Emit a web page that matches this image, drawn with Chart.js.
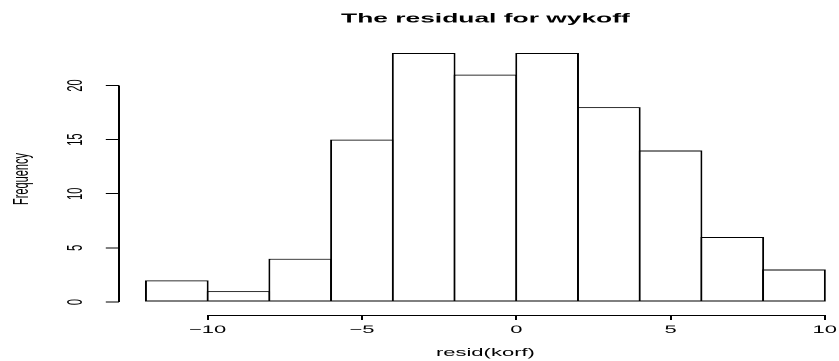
<!DOCTYPE html>
<html>
<head>
<meta charset="utf-8">
<script src="https://cdn.jsdelivr.net/npm/chart.js@4"></script>
<style>
  html, body { margin: 0; padding: 0; background: #fff; overflow: hidden; width: 839px; height: 361px; }
  /* the plot is laid out on a narrow canvas and widened 2x horizontally */
  #wrap { position: absolute; left: 0; top: 0; width: 426px; height: 361px; transform: scaleX(2); transform-origin: 0 0; }
  canvas { display: block; }
</style>
</head>
<body>
<div id="wrap"><canvas id="c" width="426" height="361"></canvas></div>
<script>
// Histogram of resid(korf): bin break points and the count in each bin
const binEdges = [-12, -10, -8, -6, -4, -2, 0, 2, 4, 6, 8, 10];
const counts = [2, 1, 4, 15, 23, 21, 23, 18, 14, 6, 3];
const xTickValues = [-10, -5, 0, 5, 10];
const yTickValues = [0, 5, 10, 15, 20];
const chartTitle = 'The residual for wykoff';
const xTitle = 'resid(korf)';
const yTitle = 'Frequency';

const FONT = "'Liberation Sans', Arial, Helvetica, sans-serif";

// one bar per bin, centred between its two break points
const bars = counts.map((n, i) => ({ x: (binEdges[i] + binEdges[i + 1]) / 2, y: n }));

const fmt = v => (v < 0 ? '\u2212' + Math.abs(v) : String(v));

// base-graphics style axis lines: only as long as the tick range
const axisLines = {
  id: 'axisLines',
  afterDraw(chart) {
    const { ctx, chartArea, scales: { x, y } } = chart;
    ctx.save();
    ctx.strokeStyle = '#000';
    ctx.lineWidth = 1;
    ctx.beginPath();
    const yb = Math.round(chartArea.bottom) + 0.5;
    ctx.moveTo(x.getPixelForValue(xTickValues[0]), yb);
    ctx.lineTo(x.getPixelForValue(xTickValues[xTickValues.length - 1]), yb);
    const xl = Math.round(chartArea.left) + 0.5;
    ctx.moveTo(xl, y.getPixelForValue(yTickValues[0]));
    ctx.lineTo(xl, y.getPixelForValue(yTickValues[yTickValues.length - 1]));
    ctx.stroke();
    ctx.restore();
  }
};

new Chart(document.getElementById('c'), {
  type: 'bar',
  data: {
    datasets: [{
      data: bars,
      backgroundColor: '#fff',
      borderColor: '#000',
      borderSkipped: false,
      borderWidth: 1,
      inflateAmount: 0,
      // bars overlap by one border width so neighbouring outlines share a line
      barPercentage: 1.0324,
      categoryPercentage: 1
    }]
  },
  options: {
    responsive: false,
    animation: false,
    devicePixelRatio: 2,
    layout: { padding: 0 },
    plugins: {
      legend: { display: false },
      tooltip: { enabled: false },
      title: {
        display: true,
        text: chartTitle,
        fullSize: false,
        color: '#000',
        font: { family: FONT, size: 13.2, weight: 'bold', lineHeight: 1.2 },
        padding: { top: 10.9, bottom: 16.3 }
      }
    },
    scales: {
      x: {
        type: 'linear',
        min: -12.88,
        max: 10.88,
        offset: false,
        afterBuildTicks: s => { s.ticks = xTickValues.map(v => ({ value: v })); },
        afterFit: s => { s.height = 46; s.paddingLeft = 0; s.paddingRight = 0; },
        grid: { display: true, offset: false, drawOnChartArea: false, drawTicks: true, tickLength: 5, color: '#000', lineWidth: 1 },
        border: { display: false },
        ticks: {
          color: '#000',
          font: { family: FONT, size: 11 },
          padding: 3.4,
          autoSkip: false,
          minRotation: 0,
          maxRotation: 0,
          callback: v => fmt(v)
        },
        title: {
          display: true,
          text: xTitle,
          color: '#000',
          font: { family: FONT, size: 11, lineHeight: 1.2 },
          padding: { top: 0, bottom: 1.4 }
        }
      },
      y: {
        type: 'linear',
        min: -1.2,
        max: 23.92,
        afterBuildTicks: s => { s.ticks = yTickValues.map(v => ({ value: v })); },
        afterFit: s => { s.width = 59.4; s.paddingTop = 0; s.paddingBottom = 0; },
        grid: { display: true, drawOnChartArea: false, drawTicks: true, tickLength: 6.5, color: '#000', lineWidth: 1 },
        border: { display: false },
        ticks: {
          color: '#000',
          font: { family: FONT, size: 11 },
          padding: 9,
          minRotation: 90,
          maxRotation: 90,
          crossAlign: 'center',
          autoSkip: false,
          callback: v => fmt(v)
        },
        title: {
          display: true,
          text: yTitle,
          color: '#000',
          font: { family: FONT, size: 11, lineHeight: 1.2 },
          padding: { top: 4.4, bottom: 0 }
        }
      }
    }
  },
  plugins: [axisLines]
});
</script>
</body>
</html>
